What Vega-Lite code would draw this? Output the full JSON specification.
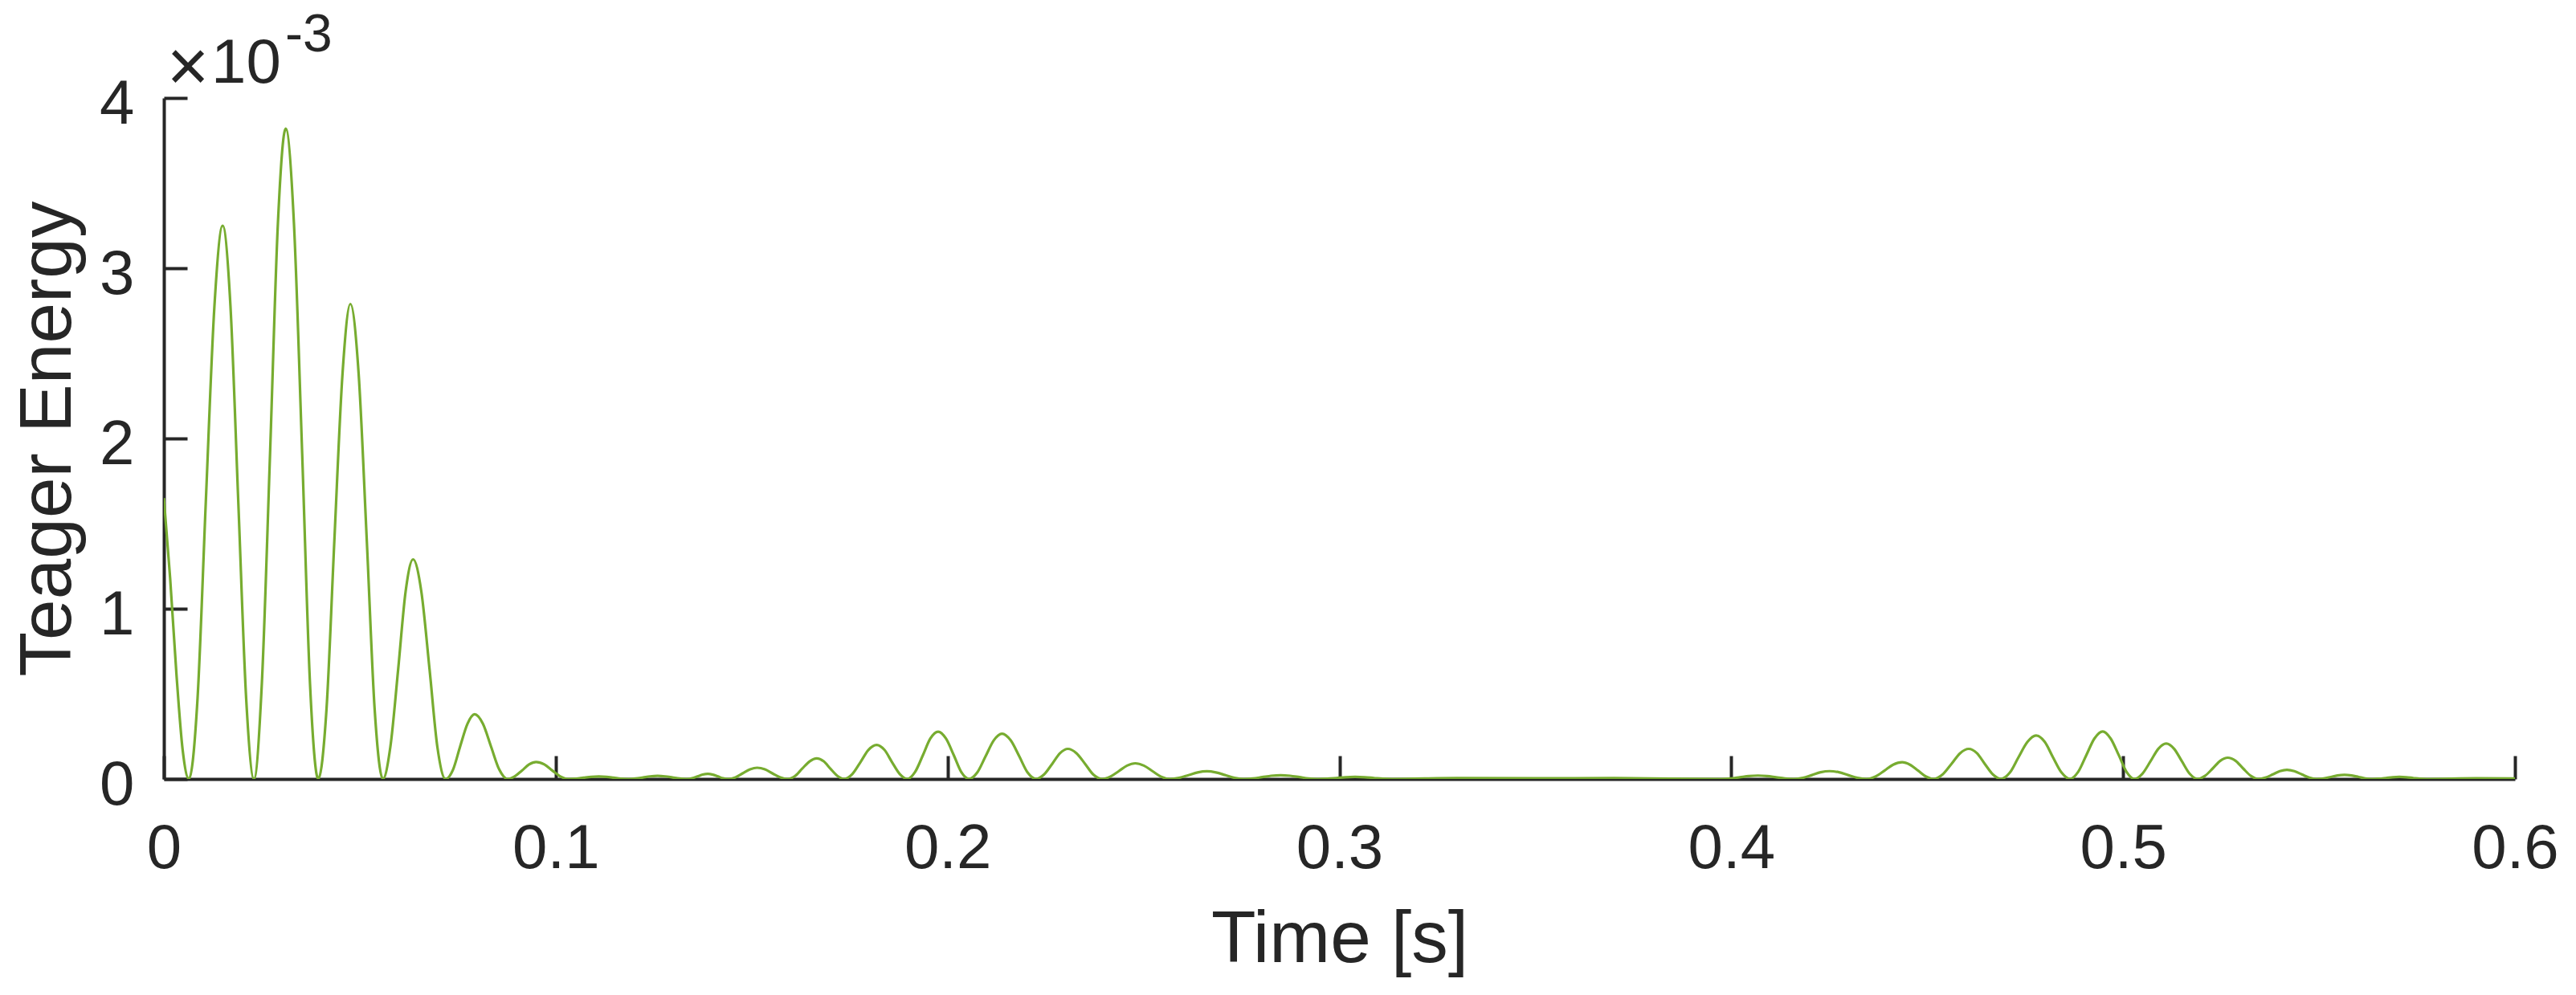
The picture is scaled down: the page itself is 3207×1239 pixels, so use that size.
{
  "$schema": "https://vega.github.io/schema/vega-lite/v6.json",
  "width": 2927,
  "height": 848,
  "autosize": {"type": "none"},
  "padding": {"left": 204, "top": 122, "right": 76, "bottom": 269},
  "background": "white",
  "config": {"view": {"stroke": null}, "font": "Liberation Sans"},
  "layer": [
    {
      "data": {"values": [
        {"t":0,"e":1.65e-3},{"t":0.0016,"e":1.18e-3},{"t":0.0032,"e":0.62e-3},{"t":0.0048,"e":0.17e-3},
        {"t":0.0064,"e":0},{"t":0.0086,"e":0.475e-3},{"t":0.0107,"e":1.625e-3},{"t":0.0129,"e":2.776e-3},{"t":0.0150,"e":3.25e-3},{"t":0.0170,"e":2.776e-3},{"t":0.0190,"e":1.625e-3},{"t":0.0210,"e":0.475e-3},
        {"t":0.0230,"e":0},{"t":0.0250,"e":0.558e-3},{"t":0.0271,"e":1.91e-3},{"t":0.0291,"e":3.262e-3},{"t":0.0311,"e":3.82e-3},{"t":0.0332,"e":3.262e-3},{"t":0.0353,"e":1.91e-3},{"t":0.0373,"e":0.558e-3},
        {"t":0.0394,"e":0},{"t":0.0415,"e":0.407e-3},{"t":0.0435,"e":1.395e-3},{"t":0.0456,"e":2.383e-3},{"t":0.0476,"e":2.79e-3},{"t":0.0497,"e":2.383e-3},{"t":0.0518,"e":1.395e-3},{"t":0.0538,"e":0.407e-3},
        {"t":0.0559,"e":0},{"t":0.0578,"e":0.188e-3},{"t":0.0598,"e":0.645e-3},{"t":0.0617,"e":1.102e-3},{"t":0.0636,"e":1.29e-3},{"t":0.0657,"e":1.102e-3},{"t":0.0678,"e":0.645e-3},{"t":0.0698,"e":0.188e-3},
        {"t":0.0719,"e":0},{"t":0.0738,"e":0.055e-3},{"t":0.0756,"e":0.19e-3},{"t":0.0775,"e":0.325e-3},{"t":0.0793,"e":0.38e-3},{"t":0.0814,"e":0.325e-3},{"t":0.0835,"e":0.19e-3},{"t":0.0856,"e":0.055e-3},
        {"t":0.0877,"e":0},{"t":0.0895,"e":0.0146e-3},{"t":0.0914,"e":0.05e-3},{"t":0.0932,"e":0.0854e-3},{"t":0.0950,"e":0.1e-3},{"t":0.0971,"e":0.0854e-3},{"t":0.0991,"e":0.05e-3},{"t":0.1012,"e":0.0146e-3},
        {"t":0.1032,"e":0},{"t":0.1052,"e":0.002e-3},{"t":0.1071,"e":0.0075e-3},{"t":0.1091,"e":0.0128e-3},{"t":0.1110,"e":0.015e-3},{"t":0.1129,"e":0.0128e-3},{"t":0.1148,"e":0.0075e-3},{"t":0.1166,"e":0.002e-3},
        {"t":0.1185,"e":0},{"t":0.1204,"e":0.0026e-3},{"t":0.1223,"e":0.009e-3},{"t":0.1241,"e":0.0154e-3},{"t":0.1260,"e":0.018e-3},{"t":0.1279,"e":0.0154e-3},{"t":0.1298,"e":0.009e-3},{"t":0.1316,"e":0.0026e-3},
        {"t":0.1335,"e":0},{"t":0.1348,"e":0.0044e-3},{"t":0.1362,"e":0.015e-3},{"t":0.1375,"e":0.0256e-3},{"t":0.1388,"e":0.03e-3},{"t":0.1401,"e":0.0256e-3},{"t":0.1414,"e":0.015e-3},{"t":0.1427,"e":0.0044e-3},
        {"t":0.1440,"e":0},{"t":0.1459,"e":0.0096e-3},{"t":0.1477,"e":0.033e-3},{"t":0.1496,"e":0.0564e-3},{"t":0.1514,"e":0.066e-3},{"t":0.1534,"e":0.0564e-3},{"t":0.1553,"e":0.033e-3},{"t":0.1573,"e":0.0096e-3},
        {"t":0.1592,"e":0},{"t":0.1611,"e":0.0177e-3},{"t":0.1629,"e":0.0605e-3},{"t":0.1648,"e":0.1033e-3},{"t":0.1666,"e":0.121e-3},{"t":0.1684,"e":0.1033e-3},{"t":0.1701,"e":0.0605e-3},{"t":0.1719,"e":0.0177e-3},
        {"t":0.1736,"e":0},{"t":0.1757,"e":0.0292e-3},{"t":0.1778,"e":0.1e-3},{"t":0.1798,"e":0.1708e-3},{"t":0.1819,"e":0.2e-3},{"t":0.1839,"e":0.1708e-3},{"t":0.1858,"e":0.1e-3},{"t":0.1878,"e":0.0292e-3},
        {"t":0.1897,"e":0},{"t":0.1917,"e":0.0406e-3},{"t":0.1937,"e":0.139e-3},{"t":0.1956,"e":0.2374e-3},{"t":0.1976,"e":0.278e-3},{"t":0.1996,"e":0.2374e-3},{"t":0.2016,"e":0.139e-3},{"t":0.2035,"e":0.0406e-3},
        {"t":0.2055,"e":0},{"t":0.2076,"e":0.0388e-3},{"t":0.2097,"e":0.133e-3},{"t":0.2118,"e":0.2272e-3},{"t":0.2139,"e":0.266e-3},{"t":0.2161,"e":0.2272e-3},{"t":0.2183,"e":0.133e-3},{"t":0.2204,"e":0.0388e-3},
        {"t":0.2226,"e":0},{"t":0.2246,"e":0.0258e-3},{"t":0.2267,"e":0.0885e-3},{"t":0.2287,"e":0.1512e-3},{"t":0.2307,"e":0.177e-3},{"t":0.2329,"e":0.1512e-3},{"t":0.2351,"e":0.0885e-3},{"t":0.2372,"e":0.0258e-3},
        {"t":0.2394,"e":0},{"t":0.2415,"e":0.0134e-3},{"t":0.2437,"e":0.046e-3},{"t":0.2458,"e":0.0786e-3},{"t":0.2479,"e":0.092e-3},{"t":0.2501,"e":0.0786e-3},{"t":0.2523,"e":0.046e-3},{"t":0.2545,"e":0.0134e-3},
        {"t":0.2567,"e":0},{"t":0.2591,"e":0.0066e-3},{"t":0.2615,"e":0.0225e-3},{"t":0.2638,"e":0.0384e-3},{"t":0.2662,"e":0.045e-3},{"t":0.2685,"e":0.0384e-3},{"t":0.2709,"e":0.0225e-3},{"t":0.2732,"e":0.0066e-3},
        {"t":0.2755,"e":0},{"t":0.2779,"e":0.0032e-3},{"t":0.2803,"e":0.011e-3},{"t":0.2826,"e":0.0188e-3},{"t":0.2850,"e":0.022e-3},{"t":0.2874,"e":0.0188e-3},{"t":0.2898,"e":0.011e-3},{"t":0.2921,"e":0.0032e-3},
        {"t":0.2945,"e":0},{"t":0.2969,"e":0.0018e-3},{"t":0.2993,"e":0.006e-3},{"t":0.3016,"e":0.0102e-3},{"t":0.3040,"e":0.012e-3},{"t":0.3064,"e":0.0102e-3},{"t":0.3088,"e":0.006e-3},{"t":0.3111,"e":0.0018e-3},
        {"t":0.3135,"e":0},{"t":0.3300,"e":0.005e-3},{"t":0.3500,"e":0.004e-3},{"t":0.3700,"e":0.005e-3},
        {"t":0.3975,"e":0},{"t":0.3998,"e":0.0029e-3},{"t":0.4022,"e":0.01e-3},{"t":0.4045,"e":0.0171e-3},{"t":0.4068,"e":0.02e-3},{"t":0.4091,"e":0.0171e-3},{"t":0.4114,"e":0.01e-3},{"t":0.4137,"e":0.0029e-3},
        {"t":0.4160,"e":0},{"t":0.4183,"e":0.0067e-3},{"t":0.4206,"e":0.023e-3},{"t":0.4228,"e":0.0393e-3},{"t":0.4251,"e":0.046e-3},{"t":0.4275,"e":0.0393e-3},{"t":0.4298,"e":0.023e-3},{"t":0.4322,"e":0.0067e-3},
        {"t":0.4345,"e":0},{"t":0.4368,"e":0.0143e-3},{"t":0.4391,"e":0.049e-3},{"t":0.4413,"e":0.0837e-3},{"t":0.4436,"e":0.098e-3},{"t":0.4456,"e":0.0837e-3},{"t":0.4477,"e":0.049e-3},{"t":0.4497,"e":0.0143e-3},
        {"t":0.4517,"e":0},{"t":0.4539,"e":0.0258e-3},{"t":0.4562,"e":0.0885e-3},{"t":0.4584,"e":0.1512e-3},{"t":0.4606,"e":0.177e-3},{"t":0.4627,"e":0.1512e-3},{"t":0.4647,"e":0.0885e-3},{"t":0.4668,"e":0.0258e-3},
        {"t":0.4688,"e":0},{"t":0.4711,"e":0.0372e-3},{"t":0.4733,"e":0.1275e-3},{"t":0.4756,"e":0.2178e-3},{"t":0.4778,"e":0.255e-3},{"t":0.4800,"e":0.2178e-3},{"t":0.4821,"e":0.1275e-3},{"t":0.4843,"e":0.0372e-3},
        {"t":0.4864,"e":0},{"t":0.4885,"e":0.0407e-3},{"t":0.4906,"e":0.1395e-3},{"t":0.4927,"e":0.2383e-3},{"t":0.4948,"e":0.279e-3},{"t":0.4968,"e":0.2383e-3},{"t":0.4989,"e":0.1395e-3},{"t":0.5009,"e":0.0407e-3},
        {"t":0.5029,"e":0},{"t":0.5049,"e":0.0304e-3},{"t":0.5070,"e":0.104e-3},{"t":0.5090,"e":0.1776e-3},{"t":0.5110,"e":0.208e-3},{"t":0.5130,"e":0.1776e-3},{"t":0.5150,"e":0.104e-3},{"t":0.5170,"e":0.0304e-3},
        {"t":0.5190,"e":0},{"t":0.5209,"e":0.0183e-3},{"t":0.5229,"e":0.0625e-3},{"t":0.5248,"e":0.1068e-3},{"t":0.5267,"e":0.125e-3},{"t":0.5287,"e":0.1068e-3},{"t":0.5306,"e":0.0625e-3},{"t":0.5326,"e":0.0183e-3},
        {"t":0.5345,"e":0},{"t":0.5363,"e":0.0079e-3},{"t":0.5382,"e":0.027e-3},{"t":0.5400,"e":0.0461e-3},{"t":0.5418,"e":0.054e-3},{"t":0.5437,"e":0.0461e-3},{"t":0.5456,"e":0.027e-3},{"t":0.5475,"e":0.0079e-3},
        {"t":0.5494,"e":0},{"t":0.5512,"e":0.0035e-3},{"t":0.5530,"e":0.012e-3},{"t":0.5547,"e":0.0205e-3},{"t":0.5565,"e":0.024e-3},{"t":0.5583,"e":0.0205e-3},{"t":0.5601,"e":0.012e-3},{"t":0.5618,"e":0.0035e-3},
        {"t":0.5636,"e":0},{"t":0.5653,"e":0.0018e-3},{"t":0.5671,"e":0.006e-3},{"t":0.5688,"e":0.0102e-3},{"t":0.5705,"e":0.012e-3},{"t":0.5722,"e":0.0102e-3},{"t":0.5740,"e":0.006e-3},{"t":0.5757,"e":0.0018e-3},
        {"t":0.5775,"e":0},{"t":0.5900,"e":0.004e-3},{"t":0.6000,"e":0.003e-3}
      ]},
      "mark": {"type": "line", "interpolate": "monotone", "color": "#77AC30", "strokeWidth": 3.2, "clip": true},
      "encoding": {
        "x": {
          "field": "t", "type": "quantitative",
          "scale": {"domain": [0, 0.6], "nice": false, "zero": false},
          "axis": {
            "title": "Time [s]", "values": [0, 0.1, 0.2, 0.3, 0.4, 0.5, 0.6], "format": ".1~f",
            "labelFont": "Liberation Sans", "titleFont": "Liberation Sans",
            "labelFontSize": 78, "titleFontSize": 91, "titleFontWeight": "normal",
            "labelColor": "#262626", "titleColor": "#262626", "domainColor": "#262626", "tickColor": "#262626",
            "domainWidth": 4, "tickWidth": 4, "tickSize": -29, "labelPadding": 77, "titlePadding": 29,
            "grid": false, "labelFlush": false, "labelOverlap": false, "zindex": 0
          }
        },
        "y": {
          "field": "e", "type": "quantitative",
          "scale": {"domain": [0, 0.004], "nice": false},
          "axis": {
            "title": "Teager Energy", "values": [0, 0.001, 0.002, 0.003, 0.004],
            "labelExpr": "format(datum.value*1000, '.0f')",
            "labelFont": "Liberation Sans", "titleFont": "Liberation Sans",
            "labelFontSize": 78, "titleFontSize": 91, "titleFontWeight": "normal",
            "labelColor": "#262626", "titleColor": "#262626", "domainColor": "#262626", "tickColor": "#262626",
            "domainWidth": 4, "tickWidth": 4, "tickSize": -29, "labelPadding": 66, "titlePadding": 17, "labelOffset": 8,
            "grid": false, "labelFlush": false, "labelOverlap": false, "zindex": 0
          }
        }
      }
    },
    {
      "data": {"values": [{}]},
      "mark": {"type": "text", "text": "×", "font": "Liberation Sans", "fontSize": 90, "align": "center", "baseline": "alphabetic", "dx": 30, "dy": -9, "color": "#262626"},
      "encoding": {"x": {"datum": 0, "type": "quantitative"}, "y": {"datum": 0.004, "type": "quantitative"}}
    },
    {
      "data": {"values": [{}]},
      "mark": {"type": "text", "text": "10", "font": "Liberation Sans", "fontSize": 78, "align": "left", "baseline": "alphabetic", "dx": 59, "dy": -19, "color": "#262626"},
      "encoding": {"x": {"datum": 0, "type": "quantitative"}, "y": {"datum": 0.004, "type": "quantitative"}}
    },
    {
      "data": {"values": [{}]},
      "mark": {"type": "text", "text": "-3", "font": "Liberation Sans", "fontSize": 66, "align": "left", "baseline": "alphabetic", "dx": 151, "dy": -58, "color": "#262626"},
      "encoding": {"x": {"datum": 0, "type": "quantitative"}, "y": {"datum": 0.004, "type": "quantitative"}}
    }
  ]
}
